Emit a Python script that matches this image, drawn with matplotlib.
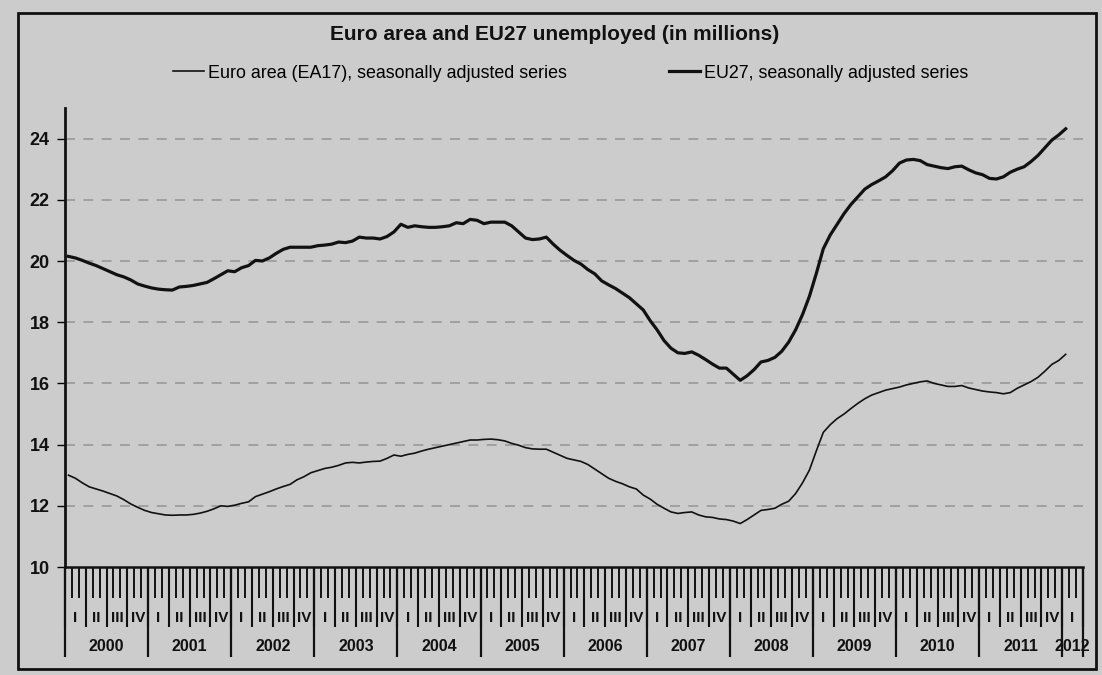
import numpy as np
import matplotlib
matplotlib.use("Agg")
import matplotlib.pyplot as plt
from matplotlib.patches import Rectangle

# Monthly data, Jan 2000 - Jan 2012 (millions)
eu27 = [
    20.15, 20.10, 20.02, 19.93, 19.85, 19.75, 19.65, 19.55, 19.48, 19.38, 19.25, 19.18,  # 2000
    19.12, 19.08, 19.06, 19.05, 19.15, 19.17, 19.20, 19.25, 19.30, 19.42, 19.55, 19.68,  # 2001
    19.65, 19.78, 19.85, 20.02, 20.00, 20.10, 20.25, 20.38, 20.45, 20.45, 20.45, 20.45,  # 2002
    20.50, 20.52, 20.55, 20.62, 20.60, 20.65, 20.78, 20.75, 20.75, 20.72, 20.80, 20.95,  # 2003
    21.20, 21.10, 21.15, 21.12, 21.10, 21.10, 21.12, 21.15, 21.25, 21.22, 21.36, 21.33,  # 2004
    21.22, 21.27, 21.27, 21.27, 21.15, 20.95, 20.75, 20.70, 20.72, 20.78, 20.55, 20.35,  # 2005
    20.18, 20.02, 19.90, 19.72, 19.58, 19.35, 19.22, 19.10, 18.95, 18.80, 18.60, 18.40,  # 2006
    18.05, 17.75, 17.40, 17.15, 17.00, 16.98, 17.03, 16.92, 16.78, 16.63, 16.50, 16.50,  # 2007
    16.30, 16.10, 16.25, 16.45, 16.70, 16.75, 16.85, 17.05, 17.35, 17.75, 18.25, 18.85,  # 2008
    19.60, 20.40, 20.85, 21.20, 21.55, 21.85, 22.10, 22.35, 22.50, 22.62, 22.75, 22.95,  # 2009
    23.20, 23.30, 23.32, 23.28, 23.15, 23.10, 23.05, 23.02, 23.08, 23.10, 22.98, 22.88,  # 2010
    22.82, 22.70, 22.68, 22.75, 22.90, 23.00, 23.08, 23.25, 23.45, 23.70, 23.95, 24.12,  # 2011
    24.32,  # 2012
]
ea17 = [
    13.00, 12.90, 12.75, 12.62, 12.55, 12.48, 12.40, 12.32, 12.20, 12.06, 11.95, 11.85,  # 2000
    11.78, 11.74, 11.70, 11.69, 11.70, 11.70, 11.72, 11.76, 11.82, 11.90, 12.00, 11.98,  # 2001
    12.02, 12.08, 12.13, 12.30, 12.38, 12.46, 12.55, 12.63, 12.70, 12.85, 12.95, 13.08,  # 2002
    13.15, 13.22, 13.26, 13.32, 13.40, 13.42, 13.40, 13.43, 13.45, 13.46, 13.55, 13.66,  # 2003
    13.62, 13.68, 13.72, 13.79, 13.85, 13.90, 13.95, 14.00, 14.05, 14.10, 14.15, 14.15,  # 2004
    14.17, 14.18, 14.16, 14.12, 14.04, 13.98, 13.90, 13.86, 13.85, 13.85, 13.75, 13.65,  # 2005
    13.55, 13.50, 13.45, 13.35, 13.20, 13.05, 12.90, 12.80, 12.72, 12.62, 12.55, 12.35,  # 2006
    12.22, 12.05, 11.92, 11.80, 11.75, 11.78, 11.80, 11.70, 11.64, 11.62, 11.57, 11.55,  # 2007
    11.50, 11.42, 11.55, 11.70, 11.85, 11.88, 11.92, 12.05, 12.15, 12.40, 12.75, 13.17,  # 2008
    13.80, 14.40, 14.65, 14.85, 15.00, 15.18, 15.35, 15.50, 15.62, 15.70, 15.78, 15.83,  # 2009
    15.88, 15.95, 16.00, 16.05, 16.08, 16.00, 15.95, 15.90, 15.90, 15.93, 15.85, 15.80,  # 2010
    15.75, 15.72, 15.70, 15.66, 15.70, 15.84, 15.95, 16.06, 16.20, 16.40, 16.62, 16.75,  # 2011
    16.95,  # 2012
]
years = ["2000", "2001", "2002", "2003", "2004", "2005", "2006",
         "2007", "2008", "2009", "2010", "2011", "2012"]
quarters = ["I", "II", "III", "IV"]
y_ticks = [10, 12, 14, 16, 18, 20, 22, 24]

TITLE = "Euro area and EU27 unemployed (in millions)"
LABEL_EA = "Euro area (EA17), seasonally adjusted series"
LABEL_EU = "EU27, seasonally adjusted series"

N_CAT = 147  # Jan 2000 .. Mar 2012 on the category axis
BG = "#cccccc"
INK = "#111111"

plt.rcParams['font.family'] = ['Liberation Sans', 'DejaVu Sans']

fig = plt.figure(figsize=(11.02, 6.75), dpi=100, facecolor=BG)
ax = fig.add_axes([65 / 1102, 1 - 567 / 675, (1083 - 65) / 1102, (567 - 108) / 675])
ax.set_facecolor(BG)

# outer frame
fig.patches.append(Rectangle((18 / 1102, 1 - 669 / 675), (1096 - 18) / 1102, (669 - 13) / 675,
                             transform=fig.transFigure, fill=False, edgecolor=INK,
                             linewidth=2.0, zorder=0))

x = np.arange(len(eu27))
ax.plot(x, ea17, color=INK, linewidth=1.2, label=LABEL_EA, zorder=3)
ax.plot(x, eu27, color=INK, linewidth=2.3, label=LABEL_EU, zorder=3)

ax.set_xlim(-0.5, N_CAT - 0.5)
ax.set_ylim(10, 25)

# y axis
ax.set_yticks(y_ticks)
ax.set_yticklabels([str(v) for v in y_ticks], fontsize=13, fontweight='bold', color=INK)
ax.tick_params(axis='y', direction='out', length=6, width=1.0, pad=5)
for v in y_ticks[1:]:
    ax.axhline(v, color='#999999', linewidth=1.2, linestyle=(0, (6, 5)), zorder=1)

for side in ['top', 'right']:
    ax.spines[side].set_visible(False)
ax.spines['left'].set_linewidth(2.0)
ax.spines['bottom'].set_linewidth(1.8)
ax.spines['left'].set_color(INK)
ax.spines['bottom'].set_color(INK)

# x axis: month / quarter / year boundaries
month_edges = np.arange(N_CAT + 1) - 0.5
year_edges = [e for e in month_edges if (e + 0.5) % 12 == 0] + [N_CAT - 0.5]
quarter_edges = [e for e in month_edges if (e + 0.5) % 3 == 0] + [N_CAT - 0.5]

ax.set_xticks(year_edges)
ax.set_xticklabels([])
ax.set_xticks(month_edges, minor=True)
ax.tick_params(axis='x', which='major', direction='out', length=65, width=1.6, color=INK)
ax.tick_params(axis='x', which='minor', direction='out', length=22, width=1.4, color=INK)

sec = ax.secondary_xaxis('bottom')
sec.set_xticks(quarter_edges)
sec.set_xticklabels([])
sec.tick_params(axis='x', direction='out', length=43, width=1.5, color=INK)
sec.spines['bottom'].set_visible(False)

# quarter labels
for q0 in range(0, N_CAT, 3):
    q_end = min(q0 + 3, N_CAT)
    qc = (q0 + q_end - 1) / 2
    ax.annotate(quarters[(q0 // 3) % 4], xy=(qc, 0), xycoords=('data', 'axes fraction'),
                xytext=(0, -37), textcoords='offset points', ha='center', va='center',
                fontsize=11, fontweight='bold', color=INK)

# year labels
for k, yr in enumerate(years):
    y0 = k * 12
    y_end = min(y0 + 12, N_CAT)
    yc = (y0 + y_end - 1) / 2
    ax.annotate(yr, xy=(yc, 0), xycoords=('data', 'axes fraction'),
                xytext=(0, -57), textcoords='offset points', ha='center', va='center',
                fontsize=11.5, fontweight='bold', color=INK)

fig.text(0.503, 1 - 34 / 675, TITLE, ha='center', va='center',
         fontsize=15, fontweight='bold', color=INK)

fig.legend(loc='center', bbox_to_anchor=(571 / 1102, 1 - 73 / 675), ncol=2,
           frameon=False, fontsize=12.9, handlelength=1.7, handletextpad=0.25,
           columnspacing=5.7)

fig.savefig("out.png", dpi=100, facecolor=BG)
